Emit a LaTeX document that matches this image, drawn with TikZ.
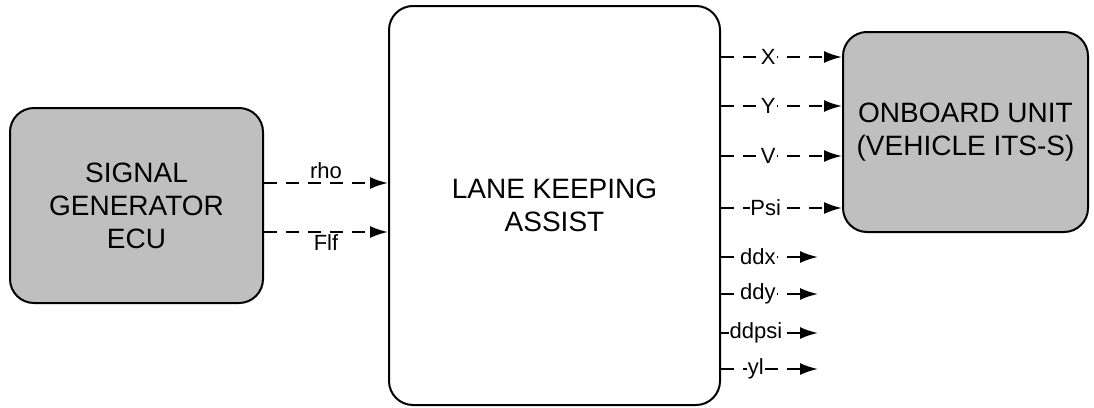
\documentclass[tikz,border=0pt]{standalone}
\usepackage{fontspec}
\setmainfont{Liberation Sans}
\usetikzlibrary{arrows.meta}

\begin{document}
\begin{tikzpicture}[
    x=1pt, y=-1pt,
    >={Latex[length=18pt,width=12pt]},
    block/.style={
      draw,
      line width=2pt,
      rounded corners=24pt,
      align=center,
      font=\fontsize{28}{33}\selectfont
    },
    signal/.style={
      ->,
      line width=2pt,
      dash pattern=on 13pt off 9pt
    },
    tag/.style={
      font=\fontsize{22}{26}\selectfont,
      inner sep=1pt
    }
  ]
    \useasboundingbox (0,0) rectangle (1094,407);

    \node[block,fill=black!25,minimum width=253pt,minimum height=195pt] (sig) at (136.5,205.5) {SIGNAL\\GENERATOR\\ECU};
    \node[block,fill=white,minimum width=331pt,minimum height=399pt] (lka) at (554.5,205.5) {LANE KEEPING\\ASSIST};
    \node[block,fill=black!25,minimum width=245pt,minimum height=200pt] (obu) at (965.5,132) {ONBOARD UNIT\\(VEHICLE ITS-S)};

    \draw[signal] (sig.east |- 0,183) -- node[tag,above=2pt] (rho) {rho} (lka.west |- 0,183);
    \draw[signal] (sig.east |- 0,232) -- node[tag,below=1pt] (flf) {Flf} (lka.west |- 0,232);

    \foreach \y/\l/\p in {57/X/0.39,106/Y/0.39,156/V/0.39,208/Psi/0.37}
      \draw[signal] (lka.east |- 0,\y) -- node[tag,fill=white,pos=\p] {\l} (obu.west |- 0,\y);

    \foreach \y/\l/\p in {257/ddx/0.38,294/ddy/0.38,333/ddpsi/0.36,369/yl/0.36}
      \draw[signal] (lka.east |- 0,\y) -- node[tag,fill=white,pos=\p] {\l} (818,\y);
  \end{tikzpicture}
\end{document}
